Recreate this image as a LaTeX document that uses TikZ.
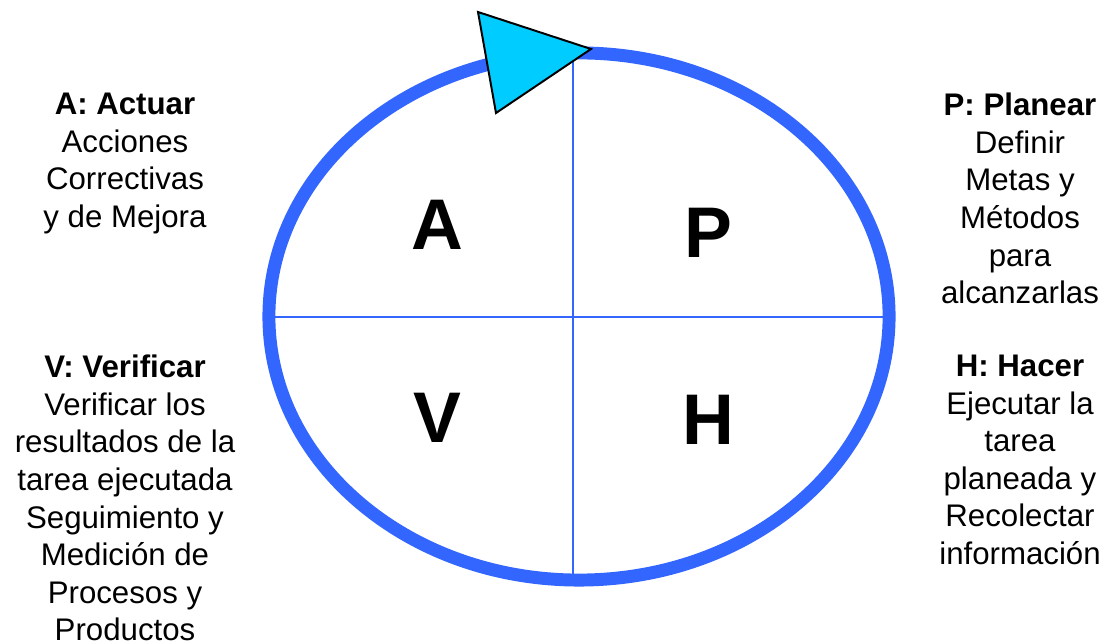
\documentclass[tikz,border=0pt]{standalone}
\usepackage{fontspec}
\setmainfont{Liberation Sans}
\usetikzlibrary{positioning,shapes.geometric}
\definecolor{cicloblue}{RGB}{51,102,255}
\definecolor{flechacyan}{RGB}{0,204,255}

\begin{document}
\begin{tikzpicture}[x=0.025cm, y=-0.025cm,
  ciclo/.style={draw=cicloblue, line width=9.2pt, ellipse,
    minimum width=15.5cm, minimum height=13.175cm, inner sep=0pt},
  eje/.style={draw=cicloblue, line width=1.4pt},
  letra/.style={font=\fontsize{51}{60}\selectfont\bfseries, inner sep=0pt},
  desc/.style={align=center, inner sep=0pt, anchor=north,
    font=\fontsize{22.2}{26.7}\selectfont}]
\useasboundingbox (0,0) rectangle (1111,642);
% ---- cycle ----
\node[ciclo] (ciclo) at (579,316.5) {};
\coordinate (arriba) at (573,59);
\coordinate (abajo)  at (573,575);
\coordinate (izq)    at (275,317);
\coordinate (der)    at (884,317);
\draw[eje] (arriba) -- (abajo);
\draw[eje] (izq) -- (der);

% ---- arrow head ----
\coordinate (f1) at (478,12);
\coordinate (f2) at (591,49);
\coordinate (f3) at (496,113);
\draw[fill=flechacyan, line width=1.4pt, line join=miter] (f1) -- (f2) -- (f3) -- cycle;

% ---- quadrant letters ----
\node[letra] (qa) at (437,225) {A};
\node[letra] (qp) at (708,233) {P};
\node[letra] (qv) at (437,418) {V};
\node[letra] (qh) at (708,420) {H};

% ---- descriptions ----
\node[desc] (actuar) at (125,93)
  {\textbf{A: Actuar}\\Acciones\\Correctivas\\y de Mejora};
\node[desc] (planear) at (1020,93)
  {\textbf{P: Planear}\\Definir\\Metas y\\Métodos\\para\\alcanzarlas};
\node[desc] (verificar) at (125,355)
  {\textbf{V: Verificar}\\Verificar los\\resultados de la\\tarea ejecutada\\Seguimiento y\\Medición de\\Procesos y\\Productos};
\node[desc] (hacer) at (1020,355)
  {\textbf{H: Hacer}\\Ejecutar la\\tarea\\planeada y\\Recolectar\\información};
\end{tikzpicture}
\end{document}
